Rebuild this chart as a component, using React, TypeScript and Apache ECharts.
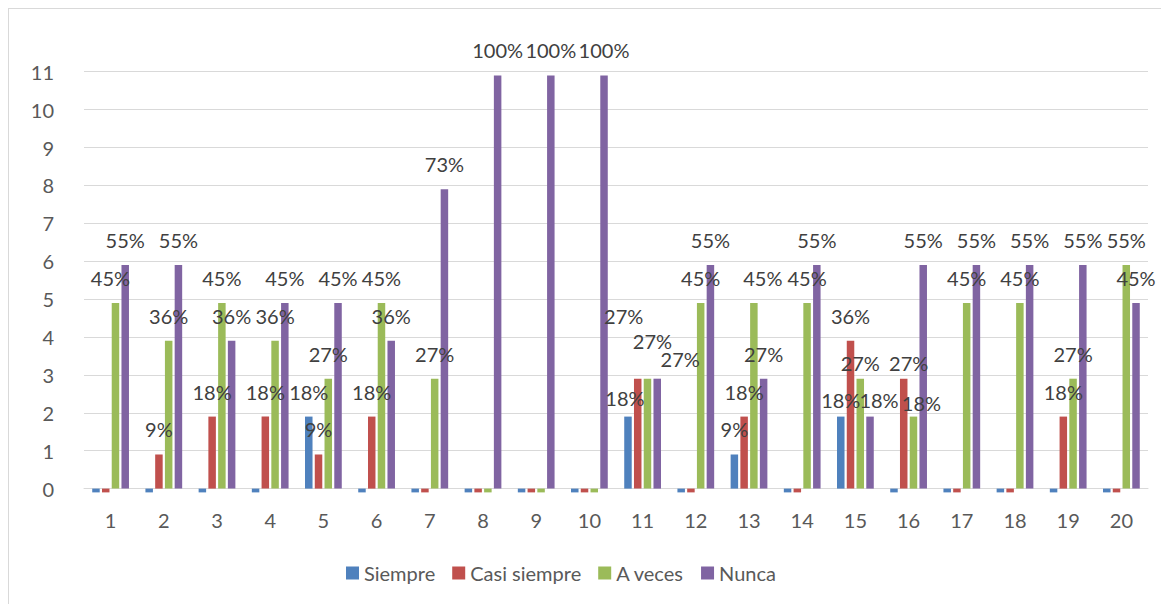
import React, { useEffect, useRef } from "react";
import * as echarts from "echarts";

const categories = ["1","2","3","4","5","6","7","8","9","10","11","12","13","14","15","16","17","18","19","20"];
const siempre = [-0.1,-0.1,-0.1,-0.1,1.9,-0.1,-0.1,-0.1,-0.1,-0.1,1.9,-0.1,0.9,-0.1,1.9,-0.1,-0.1,-0.1,-0.1,-0.1];
const casiSiempre = [-0.1,0.9,1.9,1.9,0.9,1.9,-0.1,-0.1,-0.1,-0.1,2.9,-0.1,1.9,-0.1,3.9,2.9,-0.1,-0.1,1.9,-0.1];
const aVeces = [4.9,3.9,4.9,3.9,2.9,4.9,2.9,-0.1,-0.1,-0.1,2.9,4.9,4.9,4.9,2.9,1.9,4.9,4.9,2.9,5.9];
const nunca = [5.9,5.9,3.9,4.9,4.9,3.9,7.9,10.9,10.9,10.9,2.9,5.9,2.9,5.9,1.9,5.9,5.9,5.9,5.9,4.9];
const seriesNames = ["Siempre", "Casi siempre", "A veces", "Nunca"];
const colors = ["#4f81bd", "#c0504d", "#9bbb59", "#8064a2"];
const total = 11;

// label nudges (series index -> category index -> [dx, dy]) mimicking the reference's moved labels
const labelOffsets: Record<number, Record<number, [number, number]>> = {
  0: { 10: [-3, 6], 14: [0, 8] },
  1: { 10: [-14, -38], 15: [5, 9] },
  2: { 0: [-5, 0], 10: [5, -13], 12: [9, 0], 14: [0, 9], 15: [8, 11] },
  3: { 10: [23, 5], 14: [9, 8] },
};

const FONT = "Lato, 'Open Sans', sans-serif";

export default function App() {
  const ref = useRef<HTMLDivElement>(null);
  useEffect(() => {
    if (!ref.current) return;
    const chart = echarts.init(ref.current, null, { renderer: "svg" });
    const datasets = [siempre, casiSiempre, aVeces, nunca];
    chart.setOption({
      animation: false,
      textStyle: { fontFamily: FONT },
      grid: { left: 75, right: 21, top: 62.7, bottom: 115.4, containLabel: false },
      legend: {
        left: 337,
        top: 554,
        padding: 0,
        itemWidth: 13,
        itemHeight: 13,
        itemGap: 17,
        icon: "rect",
        textStyle: { fontFamily: FONT, fontSize: 20, color: "#595959" },
        data: seriesNames,
      },
      xAxis: {
        type: "category",
        data: categories,
        axisLine: { lineStyle: { color: "#d9d9d9", width: 1 } },
        axisTick: { show: false },
        axisLabel: { color: "#595959", fontSize: 20, fontFamily: FONT, margin: 21 },
      },
      yAxis: {
        type: "value",
        min: 0,
        max: 11,
        interval: 1,
        axisLine: { show: false },
        axisTick: { show: false },
        splitLine: { lineStyle: { color: "#d9d9d9", width: 1 } },
        axisLabel: { color: "#595959", fontSize: 20, fontFamily: FONT, margin: 30 },
      },
      series: datasets.map((d, i) => ({
        name: seriesNames[i],
        type: "bar",
        data: d.map((v, j) => {
          const off = labelOffsets[i] && labelOffsets[i][j];
          return off ? { value: v, label: { offset: off } } : v;
        }),
        barWidth: 7.5,
        barGap: "30%",
        clip: false,
        itemStyle: { color: colors[i] },
        label: {
          show: true,
          position: "top",
          distance: 15,
          color: "#404040",
          fontSize: 20,
          fontFamily: FONT,
          formatter: (p: any) =>
            p.value > 0 ? Math.round(((p.value + 0.1) / total) * 100) + "%" : "",
        },
      })),
    });
    return () => chart.dispose();
  }, []);
  return (
    <div
      style={{
        width: 1160,
        height: 595,
        borderTop: "1px solid #d9d9d9",
        borderLeft: "1px solid #d9d9d9",
        background: "#fff",
      }}
    >
      <div ref={ref} style={{ width: 1160, height: 595 }} />
    </div>
  );
}
